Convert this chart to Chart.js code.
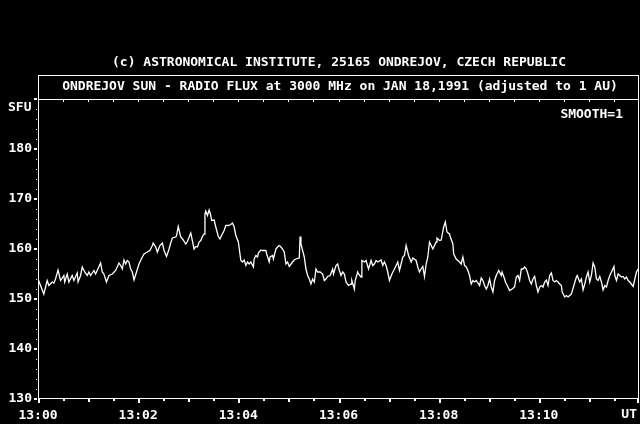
<!DOCTYPE html>
<html>
<head>
<meta charset="utf-8">
<script src="https://cdn.jsdelivr.net/npm/chart.js@4/dist/chart.umd.min.js"></script>
<style>
  html, body { margin: 0; padding: 0; background: #000; }
  #wrap { width: 640px; height: 424px; position: relative; }
</style>
</head>
<body>
<div id="wrap"><canvas id="flux" width="640" height="424"></canvas></div>
<script>
// Ondrejov 3000 MHz radio flux, JAN 18 1991, 13:00-13:12 UT
// seconds after 13:00 UT
const secs = [
    0, 7, 11, 13, 17, 19, 21, 24, 27, 31, 32, 35, 37, 41, 43, 47, 48, 51, 53, 56,
    59, 61, 63, 67, 69, 75, 77, 79, 82, 85, 89, 93, 97, 99, 101, 103, 105, 107, 109, 111,
    113, 115, 118, 121, 123, 125, 127, 131, 134, 137, 138, 141, 143, 146, 149, 151, 154, 157, 159, 161,
    165, 166, 168, 171, 174, 177, 179, 183, 184, 187, 189, 191, 193, 195, 197, 199, 200, 201, 203, 205,
    207, 208, 211, 213, 216, 218, 219, 223, 225, 228, 231, 233, 235, 237, 240, 243, 245, 247, 249, 251,
    253, 255, 258, 259, 261, 263, 264, 267, 269, 273, 274, 277, 278, 281, 282, 285, 287, 289, 291, 293,
    295, 297, 299, 301, 305, 307, 309, 313, 314, 315, 317, 319, 321, 323, 325, 327, 329, 331, 333, 335,
    338, 341, 343, 345, 347, 350, 353, 354, 357, 359, 361, 363, 365, 367, 369, 372, 375, 376, 379, 380,
    383, 384, 387, 388, 391, 393, 396, 399, 401, 403, 405, 407, 411, 413, 415, 417, 419, 421, 424, 427,
    429, 431, 433, 435, 437, 439, 441, 444, 447, 449, 453, 455, 457, 459, 461, 463, 465, 467, 469, 471,
    473, 475, 477, 478, 481, 483, 486, 488, 490, 493, 494, 497, 498, 501, 503, 505, 507, 509, 511, 513,
    515, 517, 519, 521, 523, 525, 529, 531, 533, 535, 537, 539, 541, 543, 545, 547, 549, 552, 555, 556,
    559, 560, 563, 565, 568, 571, 573, 575, 577, 579, 581, 583, 585, 587, 589, 591, 593, 595, 597, 599,
    601, 603, 605, 607, 609, 611, 613, 615, 617, 619, 621, 623, 625, 627, 628, 631, 633, 635, 637, 639,
    642, 645, 646, 649, 651, 653, 655, 657, 659, 661, 663, 665, 667, 669, 671, 673, 675, 677, 679, 681,
    683, 685, 687, 690, 691, 693, 695, 697, 699, 701, 703, 705, 707, 709, 713, 715, 717, 719
];
// flux in SFU
const sfu = [
    154.0, 151.0, 153.7, 152.7, 153.4, 153.2, 154.0, 155.8, 153.7, 154.7, 153.4, 155.0, 153.4, 154.7, 153.7, 155.2, 153.4, 154.7, 156.4, 155.4,
    154.7, 155.4, 154.7, 155.7, 155.0, 157.2, 155.4, 155.0, 153.4, 154.7, 155.0, 155.7, 157.2, 156.7, 156.0, 157.8, 157.0, 157.7, 157.4, 156.0,
    155.4, 153.8, 155.4, 157.0, 157.7, 158.4, 159.0, 159.4, 159.7, 160.7, 161.2, 160.4, 159.4, 160.7, 161.2, 159.7, 158.5, 160.0, 161.2, 162.2,
    162.4, 162.7, 164.5, 162.4, 161.8, 161.0, 161.5, 163.2, 162.4, 160.0, 160.5, 160.4, 161.4, 161.7, 162.5, 163.0, 167.0, 167.6, 166.7, 167.8,
    166.7, 165.7, 165.8, 164.4, 162.5, 162.0, 162.4, 163.7, 164.7, 164.7, 164.9, 165.2, 164.4, 162.7, 161.4, 157.7, 157.4, 157.8, 156.7, 157.4,
    157.0, 157.4, 156.4, 158.0, 158.7, 158.4, 159.2, 159.8, 159.7, 159.7, 159.0, 157.4, 158.4, 158.7, 158.0, 160.0, 160.4, 160.7, 160.4, 160.0,
    159.4, 157.0, 157.4, 156.5, 157.4, 157.8, 158.0, 158.2, 162.5, 161.0, 159.7, 158.4, 156.0, 154.7, 154.0, 153.0, 154.0, 153.4, 156.0, 155.4,
    155.4, 155.0, 153.7, 154.0, 154.5, 154.7, 156.0, 155.0, 156.7, 157.0, 155.7, 154.7, 155.4, 155.0, 153.4, 152.7, 153.0, 153.7, 152.0, 153.7,
    155.4, 155.0, 154.4, 157.7, 157.4, 157.7, 156.0, 157.7, 156.7, 157.0, 157.7, 157.4, 157.8, 156.7, 157.4, 156.7, 155.4, 153.7, 155.0, 156.0,
    156.7, 157.4, 155.7, 157.0, 158.4, 158.7, 160.7, 158.7, 157.4, 158.2, 157.7, 156.4, 155.4, 156.0, 156.5, 154.5, 157.0, 158.4, 161.4, 160.7,
    160.0, 160.7, 161.4, 162.2, 161.7, 161.8, 164.4, 165.4, 163.4, 163.0, 162.4, 161.0, 159.0, 158.0, 157.7, 157.4, 157.0, 158.4, 156.7, 156.4,
    155.7, 154.7, 153.0, 153.7, 153.4, 153.7, 152.7, 154.2, 153.7, 152.7, 152.0, 152.7, 154.0, 152.4, 151.4, 153.7, 154.7, 155.7, 154.7, 155.4,
    154.0, 153.4, 152.4, 151.7, 152.0, 152.4, 154.4, 154.7, 153.7, 156.0, 156.0, 156.4, 156.0, 155.0, 153.7, 153.0, 154.0, 154.5, 152.7, 151.4,
    152.4, 152.7, 152.4, 153.4, 153.8, 152.7, 154.7, 155.2, 153.7, 153.4, 153.7, 153.4, 153.0, 152.7, 151.4, 150.4, 150.7, 150.4, 150.7, 151.0,
    152.7, 154.4, 154.7, 153.4, 154.0, 151.8, 153.0, 154.4, 155.4, 153.4, 154.7, 157.2, 156.4, 154.0, 153.7, 154.5, 153.4, 151.8, 152.7, 152.4,
    153.7, 154.7, 155.4, 156.5, 154.7, 153.7, 155.0, 154.7, 154.4, 154.5, 154.0, 154.4, 153.7, 153.4, 152.5, 154.0, 155.4, 156.0
];
const yMin = 130, yMax = 190;
const tMin = 0, tMax = 720;
const yLabels = [130, 140, 150, 160, 170, 180];
const xLabels = ['13:00', '13:02', '13:04', '13:06', '13:08', '13:10'];

const FONT = "'DejaVu Sans Mono', 'Liberation Mono', monospace";

// frame, tick marks and the text around the plot
const decorations = {
    id: 'decorations',
    afterDraw(chart) {
        const ctx = chart.ctx;
        const a = chart.chartArea;
        const xs = chart.scales.x;
        const ys = chart.scales.y;
        ctx.save();
        ctx.fillStyle = '#fff';
        ctx.strokeStyle = '#fff';
        ctx.lineWidth = 1;

        // plot frame
        ctx.strokeRect(a.left + 0.5, a.top + 0.5, a.right - a.left - 1, a.bottom - a.top - 1);

        // y ticks, every 2 SFU, bigger at each 10
        for (let v = yMin; v <= yMax; v += 2) {
            const y = Math.round(ys.getPixelForValue(v));
            if (v % 10 === 0) ctx.fillRect(a.left - 4, y - 1, 3, 2);
            else ctx.fillRect(a.left - 2, y, 1, 1);
        }

        // x ticks every 30 s, bottom outside and top inside
        for (let t = tMin; t <= tMax; t += 30) {
            const x = Math.min(Math.round(xs.getPixelForValue(t)), a.right - 2);
            const len = t % 120 === 0 ? 4 : (t % 60 === 0 ? 3 : 2);
            ctx.fillRect(x, a.bottom, 2, len);
            if (t > tMin && t < tMax) ctx.fillRect(x, a.top + 1, 1, 2);
        }

        ctx.font = 'bold 13px ' + FONT;
        ctx.textBaseline = 'middle';

        // titles
        ctx.textAlign = 'center';
        ctx.fillText('(c) ASTRONOMICAL INSTITUTE, 25165 ONDREJOV, CZECH REPUBLIC', 339, 63);
        ctx.strokeRect(a.left + 0.5, 75.5, a.right - a.left - 1, a.top - 75);
        ctx.fillText('ONDREJOV SUN - RADIO FLUX at 3000 MHz on JAN 18,1991 (adjusted to 1 AU)', 340, 87);

        // unit labels
        ctx.textAlign = 'left';
        ctx.fillText('SFU', 8, 108);
        ctx.textAlign = 'right';
        ctx.fillText('SMOOTH=1', 623, 115);
        ctx.fillText('UT', 637, 415);
        ctx.restore();
    }
};

new Chart(document.getElementById('flux'), {
    type: 'line',
    data: {
        datasets: [{
            data: secs.map((s, i) => ({ x: s, y: sfu[i] })),
            borderColor: '#fff',
            borderWidth: 1.3,
            pointRadius: 0,
            tension: 0,
            fill: false
        }]
    },
    options: {
        responsive: false,
        animation: false,
        devicePixelRatio: 1,
        layout: {
            padding: { top: 99, right: 1, left: 0, bottom: 0 }
        },
        plugins: {
            legend: { display: false },
            tooltip: { enabled: false }
        },
        scales: {
            x: {
                type: 'linear',
                min: tMin,
                max: tMax,
                afterFit: function (scale) {
                    scale.height = 25;
                    scale.paddingLeft = 0;
                    scale.paddingRight = 0;
                },
                border: { display: false },
                grid: { display: false, drawTicks: false },
                ticks: {
                    stepSize: 120,
                    autoSkip: false,
                    maxRotation: 0,
                    padding: 9,
                    color: '#fff',
                    font: { family: FONT, size: 13, weight: 'bold' },
                    callback: function (value) {
                        const i = value / 120;
                        return xLabels[i] || '';
                    }
                }
            },
            y: {
                min: yMin,
                max: yMax,
                afterFit: function (scale) {
                    scale.width = 38;
                    scale.paddingTop = 0;
                    scale.paddingBottom = 0;
                },
                border: { display: false },
                grid: { display: false, drawTicks: false },
                ticks: {
                    stepSize: 10,
                    padding: 6,
                    color: '#fff',
                    font: { family: FONT, size: 13, weight: 'bold' },
                    callback: function (value) {
                        return yLabels.includes(value) ? String(value) : '';
                    }
                }
            }
        }
    },
    plugins: [decorations]
});
</script>
</body>
</html>
